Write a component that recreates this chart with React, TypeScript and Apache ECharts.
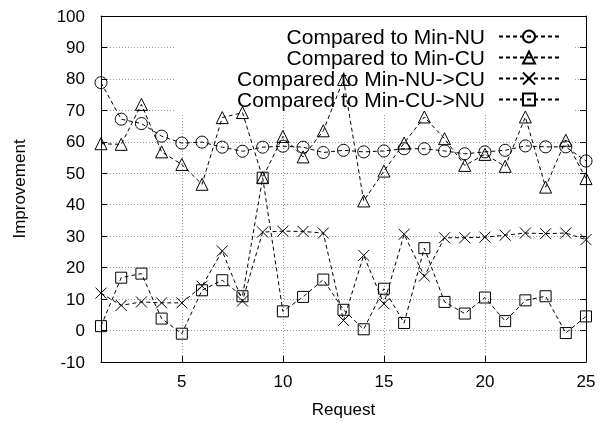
import React, { useEffect, useRef } from "react";
import * as echarts from "echarts";

const requests = [1, 2, 3, 4, 5, 6, 7, 8, 9, 10, 11, 12, 13, 14, 15, 16, 17, 18, 19, 20, 21, 22, 23, 24, 25];
const minNU = [78.8, 67.2, 65.8, 61.8, 59.6, 59.9, 58.3, 57.0, 58.3, 58.6, 58.3, 56.6, 57.3, 56.8, 57.1, 57.8, 57.8, 57.1, 56.2, 56.8, 57.3, 58.7, 58.4, 58.4, 53.9];
const minCU = [59.4, 59.2, 71.9, 56.8, 52.8, 46.5, 67.7, 69.3, 48.6, 61.7, 55.2, 63.5, 79.8, 41.2, 50.7, 59.6, 67.9, 61.0, 52.5, 56.0, 52.2, 67.9, 45.6, 60.5, 48.3];
const minNUtoCU = [11.9, 8.0, 9.1, 8.8, 8.8, 14.1, 25.3, 9.4, 31.3, 31.6, 31.5, 31.0, 3.2, 23.9, 8.5, 30.6, 17.3, 29.5, 29.5, 29.7, 30.3, 31.0, 30.8, 31.0, 28.9];
const minCUtoNU = [1.4, 16.8, 18.1, 3.8, -1.0, 12.8, 16.0, 10.9, 48.6, 6.1, 10.7, 16.2, 6.6, 0.4, 13.3, 2.4, 26.2, 9.1, 5.4, 10.5, 3.0, 9.6, 10.9, -0.8, 4.5];
const seriesNames = [
  "Compared to Min-NU",
  "Compared to Min-CU",
  "Compared to Min-NU->CU",
  "Compared to Min-CU->NU",
];
const xTicks = [5, 10, 15, 20, 25];

const FONT = "'Liberation Sans', Arial, Helvetica, sans-serif";
const CROSS = "path://M0,0L10,10M10,0L0,10";

export default function App() {
  const ref = useRef<HTMLDivElement>(null);
  useEffect(() => {
    if (!ref.current) return;
    const chart = echarts.init(ref.current, null, { renderer: "svg" });
    const pair = (vals: number[]) => requests.map((r, i) => [r, vals[i]]);
    const mk = (name: string, vals: number[], symbol: string, size: number) => ({
      name,
      type: "line",
      data: pair(vals),
      symbol,
      symbolSize: size,
      showSymbol: true,
      z: 3,
      lineStyle: { color: "#000", width: 1, type: [4, 3] },
      itemStyle: { color: "none", borderColor: "#000", borderWidth: 1 },
      emphasis: { disabled: true },
    });
    const tickStyle = { show: true, inside: true, length: 6, lineStyle: { color: "#000", width: 1 } };
    const lineStyle = { show: true, onZero: false, lineStyle: { color: "#000", width: 1 } };
    chart.setOption({
      animation: false,
      grid: { left: 101, right: 14, top: 16, bottom: 61, containLabel: false },
      graphic: [
        {
          type: "rect",
          z: 1,
          silent: true,
          shape: { x: 175, y: 17, width: 398, height: 97 },
          style: { fill: "#fff" },
        },
      ],
      legend: {
        orient: "vertical",
        align: "right",
        right: 40,
        top: 26,
        itemWidth: 60,
        itemHeight: 15,
        itemGap: 0,
        padding: 0,
        z: 4,
        selectedMode: false,
        textStyle: { fontFamily: FONT, fontSize: 21, color: "#000", lineHeight: 21, padding: [0, 9, 0, 0] },
        data: seriesNames,
      },
      xAxis: [
        {
          type: "value",
          min: 1,
          max: 25,
          name: "Request",
          nameLocation: "middle",
          nameGap: 39,
          nameTextStyle: { fontFamily: FONT, fontSize: 17, color: "#000" },
          axisLine: lineStyle,
          axisTick: { ...tickStyle, customValues: xTicks },
          axisLabel: { customValues: xTicks, fontFamily: FONT, fontSize: 17, color: "#000", margin: 11 },
          splitLine: { show: true, lineStyle: { color: "#999", width: 1, type: [1, 2] } },
        },
        {
          type: "value",
          min: 1,
          max: 25,
          position: "top",
          axisLine: lineStyle,
          axisTick: { ...tickStyle, customValues: xTicks },
          axisLabel: { show: false, customValues: xTicks },
          splitLine: { show: false },
        },
      ],
      yAxis: [
        {
          type: "value",
          min: -10,
          max: 100,
          interval: 10,
          name: "Improvement",
          nameLocation: "middle",
          nameGap: 73,
          nameTextStyle: { fontFamily: FONT, fontSize: 17, color: "#000" },
          axisLine: lineStyle,
          axisTick: tickStyle,
          axisLabel: { fontFamily: FONT, fontSize: 17, color: "#000", margin: 16 },
          splitLine: { show: true, lineStyle: { color: "#999", width: 1, type: [1, 2] } },
        },
        {
          type: "value",
          min: -10,
          max: 100,
          interval: 10,
          position: "right",
          axisLine: lineStyle,
          axisTick: tickStyle,
          axisLabel: { show: false },
          splitLine: { show: false },
        },
      ],
      series: [
        mk(seriesNames[0], minNU, "circle", 12),
        mk(seriesNames[1], minCU, "triangle", 12),
        mk(seriesNames[2], minNUtoCU, CROSS, 11),
        mk(seriesNames[3], minCUtoNU, "rect", 11),
      ],
    });
    return () => chart.dispose();
  }, []);
  return <div ref={ref} style={{ position: "fixed", left: 0, top: 0, width: 600, height: 423 }} />;
}
